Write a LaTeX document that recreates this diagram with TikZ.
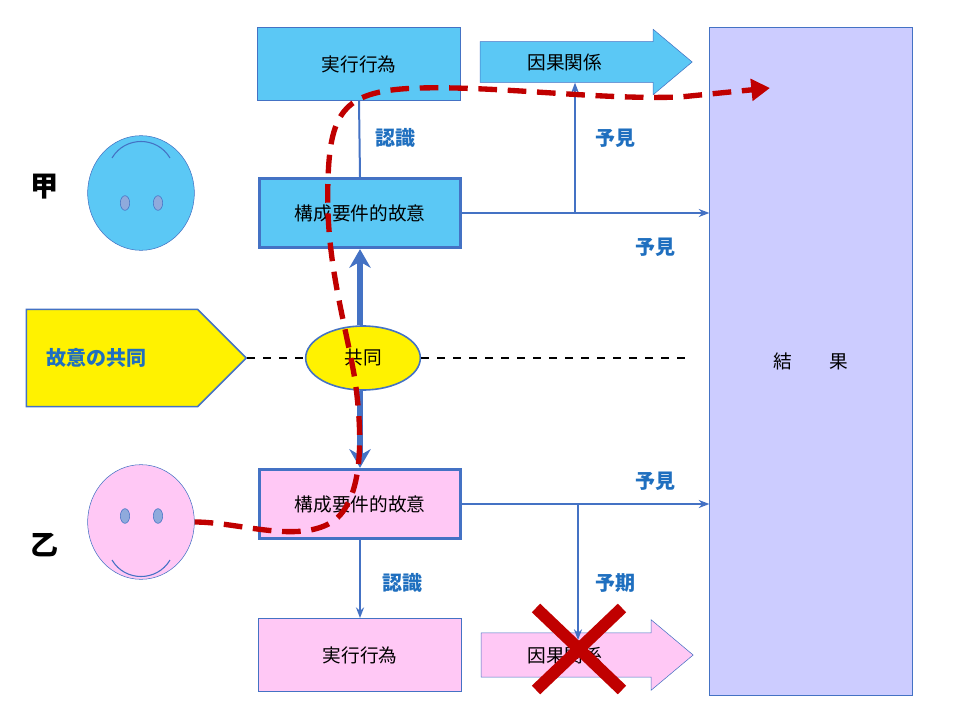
\documentclass[tikz,border=0pt]{standalone}
\usepackage{fontspec}
\setmainfont{Noto Sans CJK JP}
\usetikzlibrary{arrows.meta,shapes.arrows,shapes.symbols,shapes.geometric}
\definecolor{boxblue}{HTML}{5BC8F5}
\definecolor{boxpink}{HTML}{FFC8F5}
\definecolor{edgeblue}{HTML}{4472C4}
\definecolor{labelblue}{HTML}{1F6FBF}
\definecolor{resultfill}{HTML}{CCCCFF}
\definecolor{dashred}{HTML}{C00000}
\tikzset{
    act box/.style = {
        draw=edgeblue,
        minimum width=152pt,
        minimum height=55pt,
        font=\fontsize{14}{16}\selectfont,
        },
    intent box/.style = {
        draw=edgeblue,
        line width=2.2pt,
        minimum width=151pt,
        minimum height=52pt,
        font=\fontsize{14}{16}\selectfont,
        },
    cause arrow/.style = {
        single arrow,
        draw=edgeblue,
        minimum height=159pt,
        minimum width=49pt,
        single arrow head extend=6pt,
        single arrow tip angle=80,
        font=\fontsize{14}{16}\selectfont,
        },
    face/.style = {
        ellipse,
        draw=edgeblue,
        minimum width=80pt,
        minimum height=86pt,
        },
    eye/.style = {
        ellipse,
        draw=edgeblue,
        fill=edgeblue!60,
        minimum width=7pt,
        minimum height=11pt,
        inner sep=0pt,
        },
    label/.style = {
        text=labelblue,
        font=\bfseries\fontsize{15}{17}\selectfont,
        },
    person/.style = {
        font=\bfseries\fontsize{21}{24}\selectfont,
        },
    link/.style = {
        draw=edgeblue,
        line width=1.5pt,
        -{Stealth[length=8pt]},
        },
    joint/.style = {
        draw=edgeblue,
        line width=4.5pt,
        -{Stealth[length=14pt,width=16pt]},
        },
}

\begin{document}
\begin{tikzpicture}[x=0.75pt,y=-0.75pt]
    \useasboundingbox (0,0) rectangle (960,720);

    \node[draw=edgeblue, fill=resultfill, minimum width=152pt, minimum height=501pt, font=\fontsize{14}{16}\selectfont] (result) at (811,361) {結\quad\quad 果};

    % upper side
    \node[act box, fill=boxblue] (actA) at (359,64) {実行行為};
    \node[cause arrow, fill=boxblue] (causeA) at (574,62) {\hspace*{-14pt}因果関係};
    \node[intent box, fill=boxblue] (intentA) at (360,213) {構成要件的故意};
    \node[face, fill=boxblue] (faceA) at (141,193) {};
    \node[eye] (eyeA1) at (125,203) {};
    \node[eye] (eyeA2) at (158,203) {};
    \draw[edgeblue, line width=0.8pt] (112,158) .. controls (125,136) and (157,136) .. (170,158);
    \node[person] (kou) at (45,187) {甲};

    \coordinate (forkA) at (575,213);
    \draw[link] (intentA.east) -- (result.west |- intentA.east);
    \draw[link] (forkA) -- (causeA.south -| forkA);
    \draw[edgeblue, line width=1.5pt] (intentA.north) -- (actA.south);
    \node[label] (ninA) at (395,138) {認識};
    \node[label] (yokenA1) at (615,138) {予見};
    \node[label] (yokenA2) at (655,247) {予見};

    % joint intent
    \node[signal, signal to=east, draw=edgeblue, line width=1.2pt, fill=yellow, minimum width=165pt, minimum height=73pt, text=labelblue, font=\bfseries\fontsize{15}{17}\selectfont] (jointbox) at (112,358) {\hspace*{-24pt}故意の共同};
    \node[ellipse, draw=edgeblue, line width=1.2pt, fill=yellow, minimum width=86pt, minimum height=48pt, font=\fontsize{14}{16}\selectfont] (joint) at (363,358) {共同};
    \draw[dashed, line width=1.5pt, dash pattern=on 6pt off 6pt] (jointbox.east) -- (joint.west);
    \draw[dashed, line width=1.5pt, dash pattern=on 6pt off 6pt] (joint.east) -- (692,358);
    \draw[joint] (joint.north -| intentA.south) -- (intentA.south);

    % lower side
    \node[intent box, fill=boxpink] (intentB) at (360,504) {構成要件的故意};
    \draw[joint] (joint.south -| intentB.north) -- (intentB.north);
    \node[act box, fill=boxpink] (actB) at (360,655) {実行行為};
    \node[cause arrow, fill=boxpink, minimum width=53pt] (causeB) at (574,655) {\hspace*{-14pt}因果関係};
    \node[face, fill=boxpink] (faceB) at (141,522) {};
    \node[eye] (eyeB1) at (125,516) {};
    \node[eye] (eyeB2) at (158,516) {};
    \draw[edgeblue, line width=0.8pt] (112,560) .. controls (125,582) and (157,582) .. (170,560);
    \node[person] (otsu) at (45,545) {乙};

    \coordinate (forkB) at (578,505);
    \draw[link] (intentB.east) -- (result.west |- intentB.east);
    \draw[link] (forkB) -- (578,640);
    \draw[link] (intentB.south) -- (actB.north);
    \node[label] (ninB) at (402,583) {認識};
    \node[label] (yokiB) at (615,583) {予期};
    \node[label] (yokenB) at (655,481) {予見};

    % cross
    \draw[dashred, line width=9pt] (536,608) -- (622,690);
    \draw[dashred, line width=9pt] (622,608) -- (536,690);

    % shared route
    \draw[dashred, line width=4pt, dash pattern=on 14pt off 8pt, -{Triangle[length=14pt,width=16pt]}]
        (faceB.east) .. controls (240,522) and (300,545) .. (335,520)
        .. controls (365,495) and (362,430) .. (355,380)
        .. controls (345,320) and (325,260) .. (328,180)
        .. controls (330,110) and (345,90) .. (420,88)
        .. controls (500,86) and (600,100) .. (680,97)
        -- (770,88);
\end{tikzpicture}
\end{document}
